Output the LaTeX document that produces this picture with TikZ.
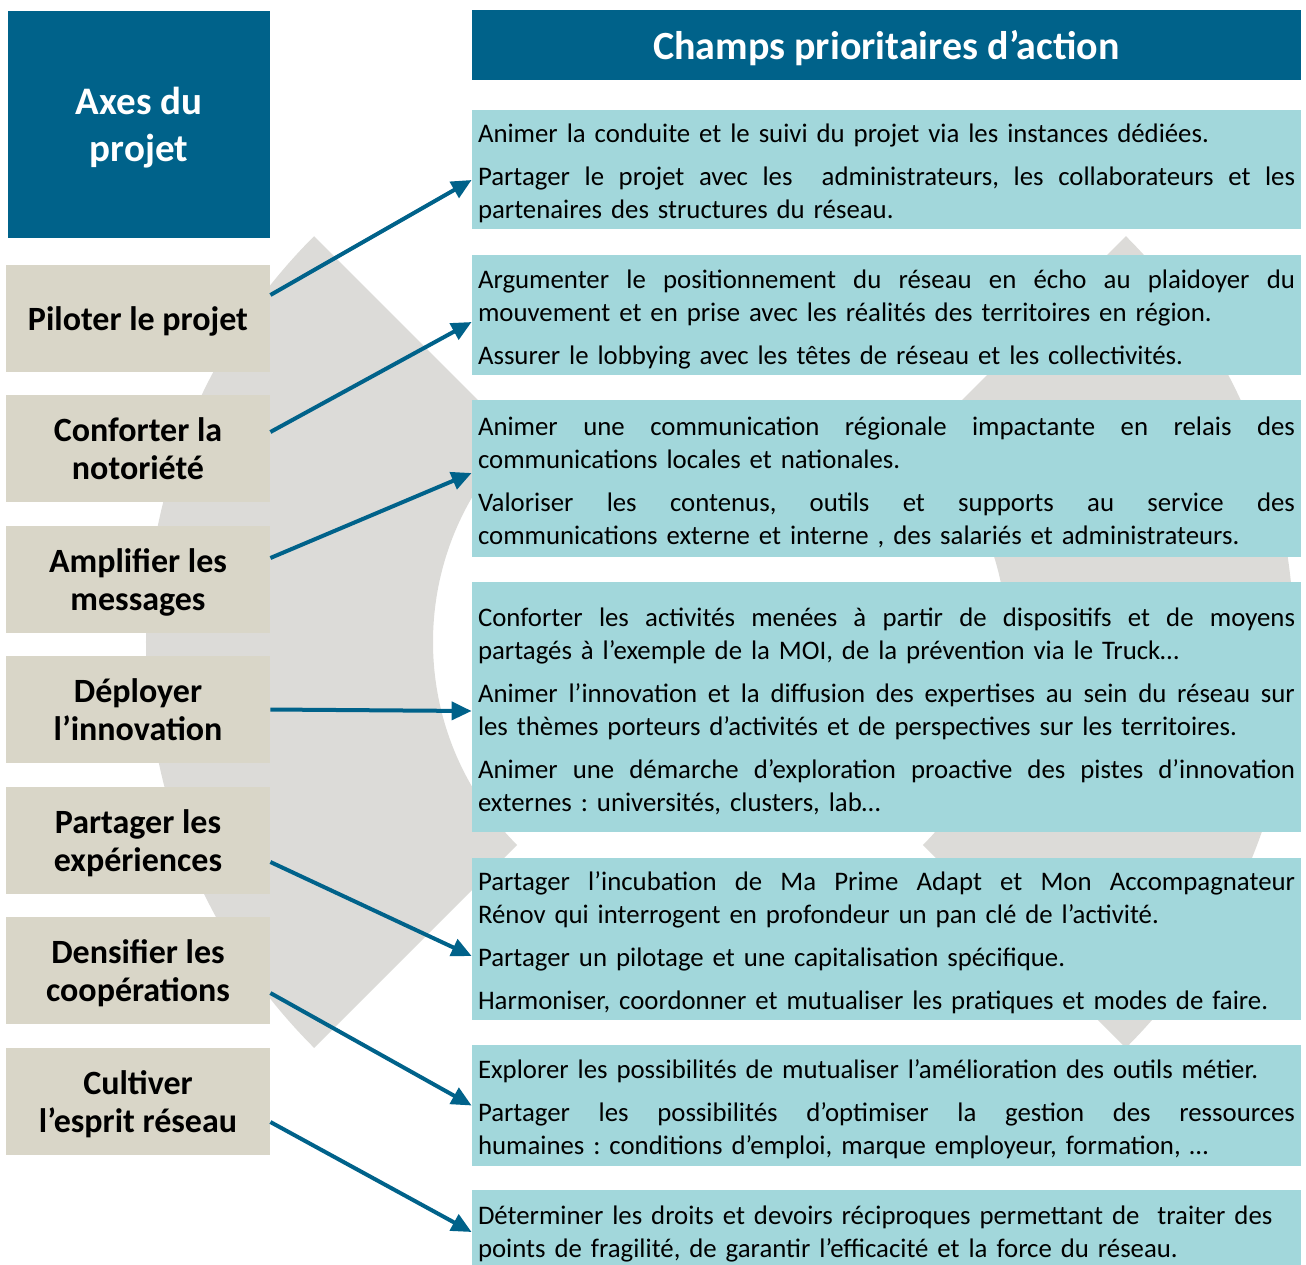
\documentclass[tikz,border=0pt]{standalone}
\usepackage{fontspec}
\setmainfont{Carlito}
\usetikzlibrary{arrows.meta}
\definecolor{axeblue}{RGB}{0,98,138}
\definecolor{champteal}{RGB}{162,215,219}
\definecolor{axebeige}{RGB}{217,214,200}
\definecolor{ringgray}{RGB}{220,219,216}

% one justified line of a paragraph
\newcommand{\jline}[1]{\hbox to 408.5pt{\spaceskip=\fontdimen2\font plus 1fil\xspaceskip=\spaceskip\relax #1}}

\tikzset{
  axebox/.style={rectangle, fill=axebeige, minimum width=132pt, minimum height=53.5pt, inner sep=0pt, text depth=0pt, align=center, font=\fontsize{17}{19}\selectfont\bfseries},
  champbox/.style={rectangle, fill=champteal, text width=408.5pt, inner xsep=3pt, inner ysep=0pt, font=\fontsize{13.4}{16.5}\selectfont\frenchspacing, execute at begin node={\rule{0pt}{13.5pt}}},
  titlebox/.style={rectangle, fill=axeblue, text=white, inner sep=0pt, text depth=0pt, align=center},
  arrowlink/.style={-{Triangle[length=10pt,width=9pt]}, line width=2pt, draw=axeblue}
}

\begin{document}
\begin{tikzpicture}[x=0.5pt, y=-0.5pt]
\useasboundingbox (0,0) rectangle (1306,1264);

% Grey cycle behind the boxes
\coordinate (ringc) at (720,642);
\fill[ringgray] ([shift={(135:287pt)}]ringc) arc[start angle=135, end angle=225, radius=287pt]
  -- ([shift={(225:143.5pt)}]ringc) arc[start angle=225, end angle=135, radius=143.5pt] -- cycle;
\fill[ringgray] ([shift={(-45:287pt)}]ringc) arc[start angle=-45, end angle=45, radius=287pt]
  -- ([shift={(45:143.5pt)}]ringc) arc[start angle=45, end angle=-45, radius=143.5pt] -- cycle;

% Titles
\node[titlebox, minimum width=131pt, minimum height=113.5pt, font=\fontsize{19.5}{23.5}\selectfont\bfseries] (axes) at (139,124.5) {Axes du\\projet};
\node[titlebox, minimum width=414.5pt, minimum height=35pt, font=\fontsize{20}{24}\selectfont\bfseries] (champs) at (886.5,45) {Champs prioritaires d’action};

% Axes du projet
\node[axebox] (pilot) at (138,318.5) {Piloter le projet};
\node[axebox] (notor) at (138,448.5) {Conforter la\\notoriété};
\node[axebox] (ampli) at (138,579.5) {Amplifier les\\messages};
\node[axebox] (deploy) at (138,709.5) {Déployer\\l’innovation};
\node[axebox] (share) at (138,840.5) {Partager les\\expériences};
\node[axebox] (densi) at (138,970.5) {Densifier les\\coopérations};
\node[axebox] (cult) at (138,1101.5) {Cultiver\\l’esprit réseau};

% Champs prioritaires
\node[champbox, minimum height=59.5pt] (actpilot) at (886.5,169.5) {Animer la conduite et le suivi du projet via les instances dédiées.\\[5pt]
\jline{Partager le projet avec les \ administrateurs, les collaborateurs et les}
partenaires des structures du réseau.};

\node[champbox, minimum height=60pt] (actnotor) at (886.5,315) {\jline{Argumenter le positionnement du réseau en écho au plaidoyer du}
mouvement et en prise avec les réalités des territoires en région.\\[5pt]
Assurer le lobbying avec les têtes de réseau et les collectivités.};

\node[champbox, minimum height=78.5pt] (actampli) at (886.5,478.5) {\jline{Animer une communication régionale impactante en relais des}
communications locales et nationales.\\[5pt]
\jline{Valoriser les contenus, outils et supports au service des}
communications externe et interne , des salariés et administrateurs.};

\node[champbox, minimum height=125pt] (actdeploy) at (886.5,707) {\jline{Conforter les activités menées à partir de dispositifs et de moyens}
partagés à l’exemple de la MOI, de la prévention via le Truck…\\[5pt]
\jline{Animer l’innovation et la diffusion des expertises au sein du réseau sur}
les thèmes porteurs d’activités et de perspectives sur les territoires.\\[5pt]
\jline{Animer une démarche d’exploration proactive des pistes d’innovation}
externes : universités, clusters, lab…};

\node[champbox, minimum height=81pt] (actshare) at (886.5,939) {\jline{Partager l’incubation de Ma Prime Adapt et Mon Accompagnateur}
Rénov qui interrogent en profondeur un pan clé de l’activité.\\[5pt]
Partager un pilotage et une capitalisation spécifique.\\[5pt]
Harmoniser, coordonner et mutualiser les pratiques et modes de faire.};

\node[champbox, minimum height=60.5pt] (actdensi) at (886.5,1105.5) {Explorer les possibilités de mutualiser l’amélioration des outils métier.\\[5pt]
\jline{Partager les possibilités d’optimiser la gestion des ressources}
humaines : conditions d’emploi, marque employeur, formation, …};

\node[champbox, minimum height=40pt] (actcult) at (886.5,1230) {Déterminer les droits et devoirs réciproques permettant de \ traiter des\\
points de fragilité, de garantir l’efficacité et la force du réseau.};

% Links
\draw[arrowlink] ([yshift=11.75pt]pilot.east) -- ([yshift=-5.25pt]actpilot.west);
\draw[arrowlink] ([yshift=8.25pt]notor.east) -- ([yshift=-3.5pt]actnotor.west);
\draw[arrowlink] ([yshift=10.75pt]ampli.east) -- ([yshift=2.75pt]actampli.west);
\draw[arrowlink] (deploy.east) -- ([yshift=-2pt]actdeploy.west);
\draw[arrowlink] ([yshift=-10.75pt]share.east) -- ([yshift=-8.5pt]actshare.west);
\draw[arrowlink] ([yshift=-11.25pt]densi.east) -- (actdensi.west);
\draw[arrowlink] ([yshift=-10.25pt]cult.east) -- ([yshift=-1pt]actcult.west);
\end{tikzpicture}
\end{document}
